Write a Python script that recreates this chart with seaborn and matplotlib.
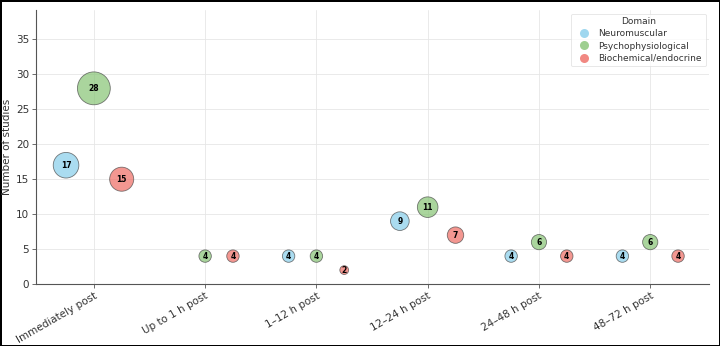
import matplotlib
matplotlib.use("Agg")
import matplotlib.pyplot as plt
from matplotlib.lines import Line2D
import seaborn as sns
import pandas as pd
import numpy as np

categories = ["Immediately post", "Up to 1 h post", "1–12 h post",
              "12–24 h post", "24–48 h post", "48–72 h post"]
domains = ["Neuromuscular", "Psychophysiological", "Biochemical/endocrine"]
neuromuscular = [17, 0, 4, 9, 4, 4]
psychophysiological = [28, 4, 4, 11, 6, 6]
biochemical = [15, 4, 2, 7, 4, 4]

colors = {"Neuromuscular": "#87CEEB",
          "Psychophysiological": "#86C474",
          "Biochemical/endocrine": "#EE6B63"}
offsets = {"Neuromuscular": -0.25, "Psychophysiological": 0.0,
           "Biochemical/endocrine": 0.25}

rows = []
for dom, vals in zip(domains, [neuromuscular, psychophysiological, biochemical]):
    for i, v in enumerate(vals):
        if v > 0:
            rows.append({"cat": i, "x": i + offsets[dom], "count": v, "Domain": dom})
df = pd.DataFrame(rows)

sns.set_theme(style="whitegrid")
plt.rcParams['font.family'] = ['DejaVu Sans']

fig = plt.figure(figsize=(7.2, 3.46), dpi=100)
fig.patch.set_edgecolor("black")
fig.patch.set_linewidth(2)
ax = fig.add_axes([0.05, 0.179, 0.935, 0.792])

sns.scatterplot(data=df, x="x", y="count", hue="Domain", palette=colors,
                hue_order=domains, size="count", sizes=(0, 560),
                size_norm=(0, 28), alpha=0.7, edgecolor="#444444",
                linewidth=0.6, legend=False, ax=ax, zorder=3)

for _, r in df.iterrows():
    ax.text(r["x"], r["count"], str(int(r["count"])), ha="center", va="center",
            fontsize=5.5, fontweight="bold", color="black", zorder=4)

ax.set_xlim(-0.52, 5.53)
ax.set_ylim(0, 39.2)
ax.set_xticks(range(len(categories)))
ax.set_xticklabels(categories, rotation=30, ha="right", rotation_mode="anchor",
                   fontsize=7.5, color="#333333")
ax.set_yticks([0, 5, 10, 15, 20, 25, 30, 35])
ax.tick_params(axis="y", labelsize=7.5, labelcolor="#333333", length=3, width=0.6,
               color="#555555", left=True, pad=2)
ax.tick_params(axis="x", length=3, width=0.6, color="#555555", bottom=True, pad=2)
ax.set_xlabel("")
ax.set_ylabel("Number of studies", fontsize=7.5, color="#333333", labelpad=3)
ax.grid(True, color="#e6e6e6", linewidth=0.6)
ax.set_facecolor("white")
for s in ["top", "right"]:
    ax.spines[s].set_visible(False)
for s in ["left", "bottom"]:
    ax.spines[s].set_visible(True)
    ax.spines[s].set_color("#555555")
    ax.spines[s].set_linewidth(0.8)

handles = [Line2D([0], [0], marker="o", linestyle="", markersize=6.5,
                  markerfacecolor=colors[d], markeredgecolor="none", alpha=0.8,
                  label=d) for d in domains]
leg = ax.legend(handles=handles, title="Domain", loc="upper right",
                fontsize=6.5, title_fontsize=6.5, frameon=True,
                borderaxespad=0.4, handletextpad=0.6, labelspacing=0.35)
leg.get_frame().set_edgecolor("#dddddd")
leg.get_frame().set_linewidth(0.6)
for t in leg.get_texts():
    t.set_color("#333333")
leg.get_title().set_color("#333333")

fig.savefig("out.png", dpi=100)
